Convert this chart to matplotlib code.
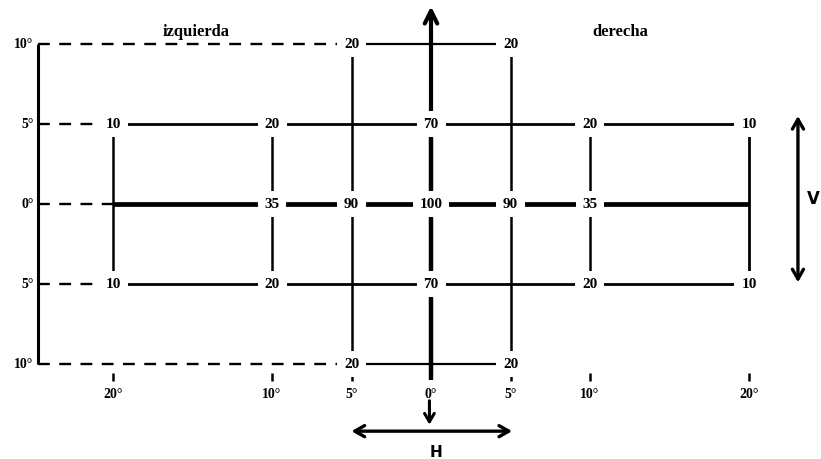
"""Diagrama de sensibilidad relativa (izquierda / derecha) con ejes H y V."""
import matplotlib
matplotlib.use("Agg")
import matplotlib.pyplot as plt

# posiciones horizontales (grados) y verticales (grados)
H_DEG = [-20, -10, -5, 0, 5, 10, 20]
V_DEG = [10, 5, 0, -5, -10]

# valores de cada fila (None = sin etiqueta en ese cruce)
ROW_10 = [None, None, 20, None, 20, None, None]
ROW_5 = [10, 20, None, 70, None, 20, 10]
ROW_0 = [None, 35, 90, 100, 90, 35, None]
ROW_M5 = [10, 20, None, 70, None, 20, 10]
ROW_M10 = [None, None, 20, None, 20, None, None]
ROWS = [ROW_10, ROW_5, ROW_0, ROW_M5, ROW_M10]

# tramos continuos de cada fila (inicio, fin) y de cada columna (arriba, abajo)
ROW_SPAN = [(-5, 5), (-20, 20), (-20, 20), (-20, 20), (-5, 5)]
COL_SPAN = [(5, -5), (5, -5), (10, -10), (5, -11), (10, -10), (5, -5), (5, -5)]

H_LABELS = ["20°", "10°", "5°", "0°", "5°", "10°", "20°"]
V_LABELS = ["10°", "5°", "0°", "5°", "10°"]

FRAME_X = -24.7
SERIF = "Liberation Serif"

fig = plt.figure(figsize=(8.21, 4.60), dpi=100)
ax = fig.add_axes([0, 0, 1, 1])
ax.set_xlim(-27.11, 24.53)
ax.set_ylim(-15.94, 12.81)
ax.axis("off")

row_lw = [1.6, 2.0, 3.4, 2.0, 1.6]
col_lw = [1.8, 1.8, 1.8, 3.2, 1.8, 1.8, 2.0]

# marco izquierdo
ax.plot([FRAME_X, FRAME_X], [V_DEG[0], V_DEG[-1]], color="black", lw=2.2,
        solid_capstyle="butt", zorder=2)

# filas: tramo discontinuo desde el marco y tramo continuo
for v, span, lw in zip(V_DEG, ROW_SPAN, row_lw):
    ax.plot([FRAME_X, span[0]], [v, v], color="black", lw=1.7,
            dashes=(5, 4), zorder=1)
    ax.plot([span[0], span[1]], [v, v], color="black", lw=lw,
            solid_capstyle="butt", zorder=1)

# columnas
for h, span, lw in zip(H_DEG, COL_SPAN, col_lw):
    ax.plot([h, h], [span[0], span[1]], color="black", lw=lw,
            solid_capstyle="butt", zorder=1)

# flecha hacia arriba en el centro
ax.annotate("", xy=(0, 12.35), xytext=(0, 5),
            arrowprops=dict(arrowstyle="->,head_length=0.9,head_width=0.45",
                            lw=3.0, color="black", shrinkA=0, shrinkB=0), zorder=1)

# marcas cortas sobre las etiquetas inferiores
for h in H_DEG:
    if h != 0:
        ax.plot([h, h], [-10.55, -11.05], color="black", lw=1.8,
                solid_capstyle="butt")

# valores
for v, row in zip(V_DEG, ROWS):
    for h, val in zip(H_DEG, row):
        if val is not None:
            ax.text(h, v, str(val), ha="center", va="center", fontsize=11,
                    family=SERIF, fontweight="bold", zorder=3,
                    bbox=dict(boxstyle="square,pad=0.45", fc="white", ec="none"))

# etiquetas verticales
for v, lab in zip(V_DEG, V_LABELS):
    ax.text(FRAME_X - 0.3, v, lab, ha="right", va="center", fontsize=10,
            family=SERIF, fontweight="bold")

# etiquetas horizontales
for h, lab in zip(H_DEG, H_LABELS):
    ax.text(h, -11.85, lab, ha="center", va="center", fontsize=10,
            family=SERIF, fontweight="bold")

# títulos
ax.text(-14.8, 10.8, "izquierda", ha="center", va="center", fontsize=12,
        family=SERIF, fontweight="bold")
ax.text(11.9, 10.8, "derecha", ha="center", va="center", fontsize=12,
        family=SERIF, fontweight="bold")

# flecha hacia abajo bajo 0°
ax.annotate("", xy=(-0.1, -13.8), xytext=(-0.1, -12.3),
            arrowprops=dict(arrowstyle="->,head_length=0.6,head_width=0.35",
                            lw=2.2, color="black", shrinkA=0, shrinkB=0))

# flecha doble H
ax.annotate("", xy=(-5.0, -14.2), xytext=(5.1, -14.2),
            arrowprops=dict(arrowstyle="<->,head_length=0.7,head_width=0.4",
                            lw=2.4, color="black", shrinkA=0, shrinkB=0))
ax.text(0.3, -15.45, "H", ha="center", va="center", fontsize=11,
        family="DejaVu Sans", fontweight="bold")

# flecha doble V
ax.annotate("", xy=(23.08, 5.5), xytext=(23.08, -4.9),
            arrowprops=dict(arrowstyle="<->,head_length=0.7,head_width=0.4",
                            lw=2.4, color="black", shrinkA=0, shrinkB=0))
ax.text(24.45, 0.4, "V", ha="right", va="center", fontsize=12,
        family="DejaVu Sans", fontweight="bold")

fig.savefig("out.png", dpi=100)
